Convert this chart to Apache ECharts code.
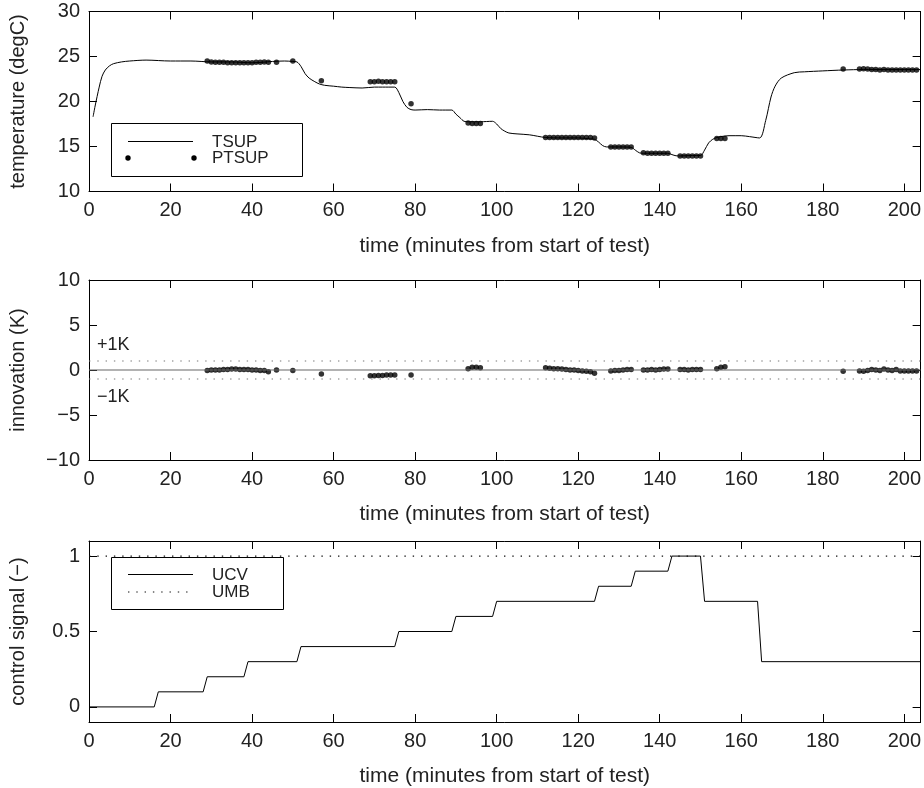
<!DOCTYPE html>
<html>
<head>
<meta charset="utf-8">
<script src="https://cdn.jsdelivr.net/npm/echarts@6/dist/echarts.min.js"></script>
<style>
html,body{margin:0;padding:0;background:#fff;}
#c{width:924px;height:788px;}
</style>
</head>
<body>
<div id="c"></div>
<script>
// ---------- data ----------
const xTicks = [0, 20, 40, 60, 80, 100, 120, 140, 160, 180, 200];
const tempTicks = [10, 15, 20, 25, 30];
const innovTicks = [-10, -5, 0, 5, 10];
const ctrlTicks = [0, 0.5, 1];

// TSUP (supply temperature, degC)
const tsupTime = [1, 1.5, 2.5, 3.2, 4, 5, 6, 8, 10, 14, 20, 25, 30, 35, 40, 45, 48, 50, 51, 52, 53, 54, 55.4, 56.5, 57.8, 60, 62, 64, 67, 70, 72, 75, 76, 77, 78, 79, 80, 83, 86, 89, 90, 91, 92, 93, 96, 99, 100, 101, 102, 103, 105, 108, 112, 116, 120, 123, 124, 125, 126, 127, 130, 133, 134, 135, 136, 138, 142, 143, 144, 145, 148, 150, 151, 152, 153, 154, 155, 157, 160, 162, 164.5, 166, 167.3, 168.3, 169.8, 173, 175.5, 180, 185, 190, 195, 200, 204];
const tsupVal  = [18.3, 19.5, 21.6, 22.8, 23.5, 23.95, 24.2, 24.4, 24.5, 24.6, 24.5, 24.5, 24.4, 24.4, 24.3, 24.45, 24.5, 24.45, 24.4, 23.9, 23.1, 22.6, 22.2, 21.95, 21.8, 21.7, 21.6, 21.55, 21.5, 21.6, 21.6, 21.6, 21.0, 20.0, 19.35, 19.1, 19.05, 19.1, 19.05, 19.05, 18.6, 18.2, 17.8, 17.75, 17.75, 17.8, 17.5, 17.0, 16.7, 16.5, 16.4, 16.3, 16.0, 15.95, 15.95, 15.85, 15.8, 15.5, 15.1, 14.95, 14.95, 14.9, 14.6, 14.3, 14.25, 14.25, 14.25, 14.1, 13.97, 13.95, 14.0, 14.0, 14.6, 15.4, 15.8, 16.0, 16.1, 16.2, 16.2, 16.1, 15.95, 17.9, 20.5, 21.7, 22.6, 23.2, 23.3, 23.4, 23.5, 23.55, 23.55, 23.55, 23.55];

// PTSUP sample times (minutes)
const ptTime = [29, 30, 31, 32, 33, 34, 35, 36, 37, 38, 39, 40, 41, 42, 43, 44, 46, 50, 57,
  69, 70, 71, 72, 73, 74, 75, 79, 93, 94, 95, 96,
  112, 113, 114, 115, 116, 117, 118, 119, 120, 121, 122, 123, 124,
  128, 129, 130, 131, 132, 133, 136, 137, 138, 139, 140, 141, 142,
  145, 146, 147, 148, 149, 150, 154, 155, 156, 185,
  189, 190, 191, 192, 193, 194, 195, 196, 197, 198, 199, 200, 201, 202, 203];
// PTSUP (predicted supply temperature, degC)
const ptsupVal = [24.5, 24.4, 24.35, 24.35, 24.35, 24.3, 24.3, 24.3, 24.3, 24.3, 24.3, 24.3, 24.35, 24.35, 24.4, 24.35, 24.35, 24.5, 22.3,
  22.2, 22.2, 22.25, 22.2, 22.2, 22.2, 22.2, 19.75, 17.6, 17.55, 17.55, 17.55,
  16.0, 16.0, 16.0, 16.0, 16.0, 16.0, 16.0, 16.0, 16.0, 16.0, 16.0, 16.0, 15.95,
  14.95, 14.95, 14.95, 14.95, 14.95, 14.95, 14.3, 14.25, 14.25, 14.25, 14.25, 14.25, 14.25,
  13.95, 13.95, 13.95, 13.95, 13.95, 13.95, 15.9, 15.9, 15.9, 23.6,
  23.6, 23.65, 23.6, 23.55, 23.55, 23.5, 23.55, 23.5, 23.5, 23.5, 23.5, 23.5, 23.5, 23.5, 23.5];
// innovation (K)
const innovVal = [-0.05, 0.0, 0.0, 0.0, 0.05, 0.05, 0.1, 0.1, 0.05, 0.05, 0.05, 0.0, 0.0, -0.05, -0.05, -0.2, 0.0, -0.05, -0.45,
  -0.65, -0.65, -0.6, -0.6, -0.55, -0.55, -0.55, -0.55, 0.15, 0.3, 0.3, 0.25,
  0.25, 0.2, 0.15, 0.15, 0.1, 0.05, 0.0, 0.0, -0.05, -0.1, -0.15, -0.2, -0.35,
  -0.1, -0.05, -0.05, 0.0, 0.05, 0.05, 0.0, 0.0, 0.05, 0.0, 0.05, 0.1, 0.1,
  0.05, 0.05, 0.0, 0.05, 0.05, 0.05, 0.15, 0.3, 0.35, -0.15,
  -0.1, -0.15, -0.05, 0.05, 0.0, -0.05, 0.1, 0.0, -0.05, 0.05, -0.1, -0.1, -0.1, -0.1, -0.1];
const innovBands = [1, -1];
const innovZero = 0;

// UCV control signal steps
const ucvTime = [0, 16, 17, 28, 29, 38, 39, 51, 52, 75, 76, 89, 90, 99, 100, 124, 125, 133, 134, 142, 143, 150, 151, 164, 165, 204];
const ucvVal  = [0, 0, 0.1, 0.1, 0.2, 0.2, 0.3, 0.3, 0.4, 0.4, 0.5, 0.5, 0.6, 0.6, 0.7, 0.7, 0.8, 0.8, 0.9, 0.9, 1.0, 1.0, 0.7, 0.7, 0.3, 0.3];
const umbTime = [0, 204];
const umbVal = [1, 1];

// ---------- chart ----------
const zip = (a, b) => a.map((v, i) => [v, b[i]]);
const FONT = 'Liberation Sans, Arial, Helvetica, sans-serif';
const TXT = '#222';
const X_MAX = 204;

const grids = [
  {left: 89, right: 1, top: 11.5, height: 180},
  {left: 89, right: 1, top: 280, height: 180},
  {left: 89, right: 1, top: 541, height: 181}
];

function xAxes(gi) {
  const base = {
    type: 'value', gridIndex: gi, min: 0, max: X_MAX,
    axisLine: {show: true, onZero: false, lineStyle: {color: '#000', width: 1}},
    splitLine: {show: false},
    axisTick: {show: true, inside: true, length: 8, customValues: xTicks, lineStyle: {color: '#000'}}
  };
  return [
    Object.assign({}, base, {
      position: 'bottom',
      axisLabel: {show: true, customValues: xTicks, fontSize: 20, color: TXT, fontFamily: FONT, margin: 9},
      name: 'time (minutes from start of test)', nameLocation: 'middle', nameGap: 44,
      nameTextStyle: {fontSize: 21, color: TXT, fontFamily: FONT}
    }),
    Object.assign({}, base, {position: 'top', axisLabel: {show: false}})
  ];
}
function yAxes(gi, min, max, ticks, name, fmt) {
  const base = {
    type: 'value', gridIndex: gi, min: min, max: max,
    axisLine: {show: true, onZero: false, lineStyle: {color: '#000', width: 1}},
    splitLine: {show: false},
    axisTick: {show: true, inside: true, length: 8, customValues: ticks, lineStyle: {color: '#000'}}
  };
  return [
    Object.assign({}, base, {
      position: 'left',
      axisLabel: {show: true, customValues: ticks, fontSize: 20, color: TXT, fontFamily: FONT, margin: 9,
        formatter: fmt || (v => String(v).replace('-', '\u2212'))},
      name: name, nameLocation: 'middle', nameRotate: 90, nameGap: 61,
      nameTextStyle: {fontSize: 20, color: TXT, fontFamily: FONT}
    }),
    Object.assign({}, base, {position: 'right', axisLabel: {show: false}})
  ];
}

const option = {
  animation: false,
  backgroundColor: '#fff',
  grid: grids,
  xAxis: [].concat(xAxes(0), xAxes(1), xAxes(2)),
  yAxis: [].concat(
    yAxes(0, 10, 30, tempTicks, 'temperature (degC)'),
    yAxes(1, -10, 10, innovTicks, 'innovation (K)'),
    yAxes(2, -0.1, 1.1, ctrlTicks, 'control signal (\u2212)', v => String(v))
  ),
  series: [
    {type: 'line', name: 'TSUP', xAxisIndex: 0, yAxisIndex: 0, data: zip(tsupTime, tsupVal),
     showSymbol: false, symbol: 'none', smooth: 0.3, lineStyle: {color: '#000', width: 1}},
    {type: 'scatter', name: 'PTSUP', xAxisIndex: 0, yAxisIndex: 0, data: zip(ptTime, ptsupVal),
     symbol: 'circle', symbolSize: 5.5, itemStyle: {color: '#000'}},
    {type: 'line', name: 'zero', xAxisIndex: 2, yAxisIndex: 2, data: [[0, innovZero], [X_MAX, innovZero]],
     showSymbol: false, symbol: 'none', lineStyle: {color: '#666', width: 1.2}},
    {type: 'line', name: '+1K', xAxisIndex: 2, yAxisIndex: 2, data: [[0, innovBands[0]], [X_MAX, innovBands[0]]],
     showSymbol: false, symbol: 'none', lineStyle: {color: '#777', width: 1.2, type: [1.4, 6.9]}},
    {type: 'line', name: '-1K', xAxisIndex: 2, yAxisIndex: 2, data: [[0, innovBands[1]], [X_MAX, innovBands[1]]],
     showSymbol: false, symbol: 'none', lineStyle: {color: '#777', width: 1.2, type: [1.4, 6.9]}},
    {type: 'scatter', name: 'innovation', xAxisIndex: 2, yAxisIndex: 2, data: zip(ptTime, innovVal),
     symbol: 'circle', symbolSize: 5.5, itemStyle: {color: '#000'}},
    {type: 'line', name: 'UMB', xAxisIndex: 4, yAxisIndex: 4, data: zip(umbTime, umbVal),
     showSymbol: false, symbol: 'none', lineStyle: {color: '#111', width: 1.2, type: [1.4, 6.9]}},
    {type: 'line', name: 'UCV', xAxisIndex: 4, yAxisIndex: 4, data: zip(ucvTime, ucvVal),
     showSymbol: false, symbol: 'none', lineStyle: {color: '#000', width: 1}}
  ],
  graphic: [
    // top legend
    {type: 'rect', z: 100, shape: {x: 111.5, y: 123.5, width: 191, height: 53},
     style: {fill: '#fff', stroke: '#000', lineWidth: 1}},
    {type: 'line', z: 101, shape: {x1: 128, y1: 141.5, x2: 193, y2: 141.5}, style: {stroke: '#000', lineWidth: 1}},
    {type: 'circle', z: 101, shape: {cx: 128, cy: 158, r: 2.7}, style: {fill: '#000'}},
    {type: 'circle', z: 101, shape: {cx: 194, cy: 158, r: 2.7}, style: {fill: '#000'}},
    {type: 'text', z: 101, x: 212, y: 142, style: {text: 'TSUP', fill: TXT, font: '17px ' + FONT, verticalAlign: 'middle'}},
    {type: 'text', z: 101, x: 212, y: 158, style: {text: 'PTSUP', fill: TXT, font: '17px ' + FONT, verticalAlign: 'middle'}},
    // middle labels
    {type: 'text', z: 101, x: 97, y: 345, style: {text: '+1K', fill: TXT, font: '18px ' + FONT, verticalAlign: 'middle'}},
    {type: 'text', z: 101, x: 97, y: 397, style: {text: '\u22121K', fill: TXT, font: '18px ' + FONT, verticalAlign: 'middle'}},
    // bottom legend
    {type: 'rect', z: 100, shape: {x: 111.5, y: 557.5, width: 172, height: 52},
     style: {fill: '#fff', stroke: '#000', lineWidth: 1}},
    {type: 'line', z: 101, shape: {x1: 128, y1: 574.5, x2: 193, y2: 574.5}, style: {stroke: '#000', lineWidth: 1}},
    {type: 'line', z: 101, shape: {x1: 128, y1: 592, x2: 193, y2: 592}, style: {stroke: '#111', lineWidth: 1.2, lineDash: [1.4, 6.9]}},
    {type: 'text', z: 101, x: 212, y: 575, style: {text: 'UCV', fill: TXT, font: '17px ' + FONT, verticalAlign: 'middle'}},
    {type: 'text', z: 101, x: 212, y: 592, style: {text: 'UMB', fill: TXT, font: '17px ' + FONT, verticalAlign: 'middle'}}
  ]
};

const chart = echarts.init(document.getElementById('c'), null, {renderer: 'canvas'});
chart.setOption(option);
</script>
</body>
</html>
